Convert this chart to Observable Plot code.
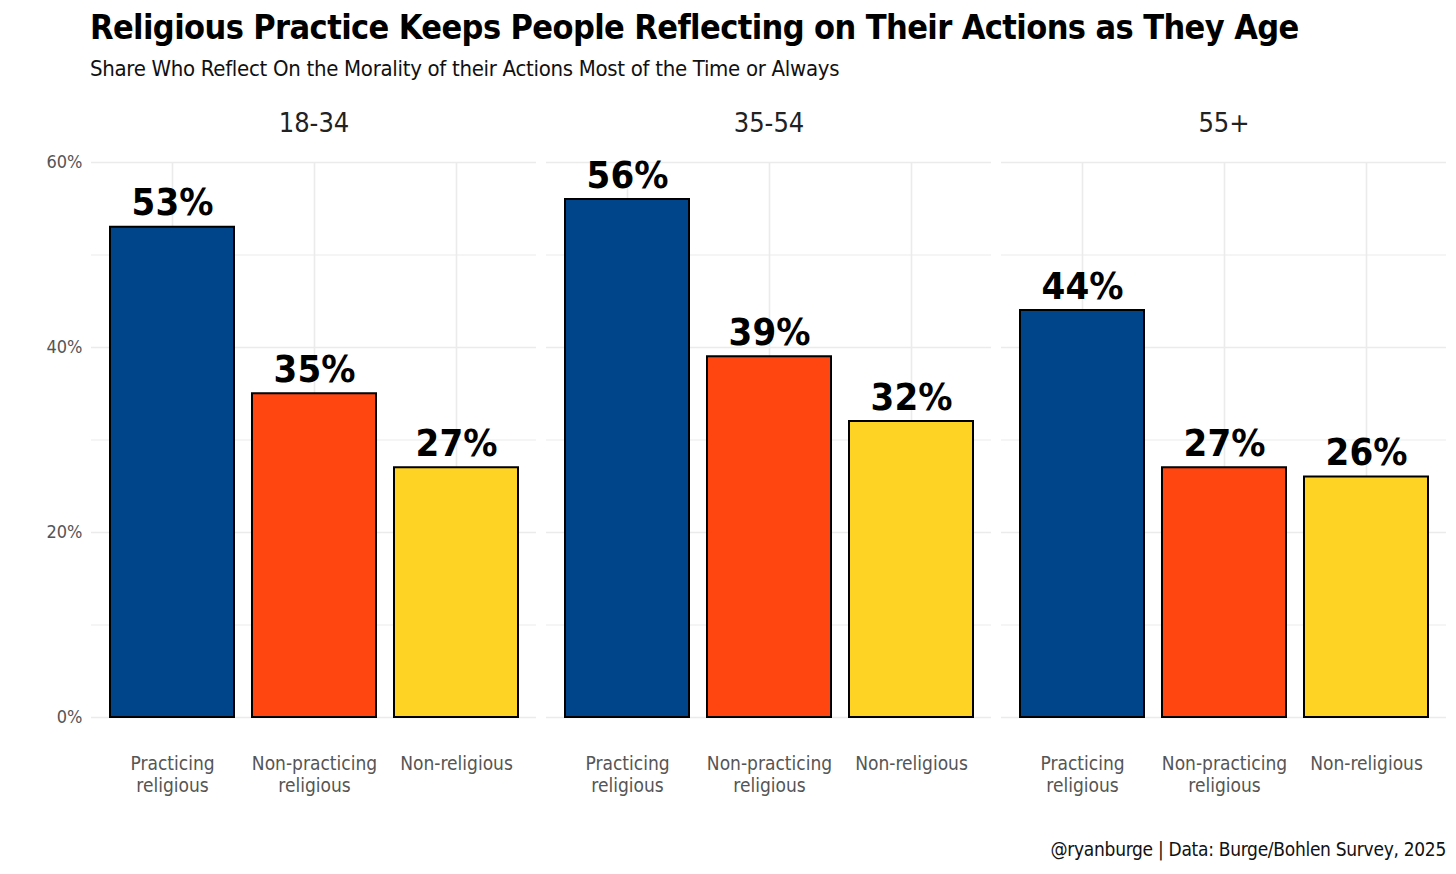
<!DOCTYPE html>
<html><head><meta charset="utf-8">
<script src="https://cdn.jsdelivr.net/npm/d3@7"></script>
<script src="https://cdn.jsdelivr.net/npm/@observablehq/plot@0.6"></script>
<style>
body{margin:0;background:#fff;font-family:"DejaVu Sans Condensed","Roboto",sans-serif;font-stretch:condensed;width:1456px;height:874px;overflow:hidden;position:relative}
#t{position:absolute;left:90px;top:7px;font-size:34px;font-weight:bold;color:#000;letter-spacing:-0.6px}
#s{position:absolute;left:90px;top:56px;font-size:22px;color:#111;letter-spacing:-0.3px}
#c{position:absolute;right:10px;top:838px;font-size:19px;color:#111;letter-spacing:-0.3px}
#p{position:absolute;left:0;top:95px}
</style></head><body>
<div id="t">Religious Practice Keeps People Reflecting on Their Actions as They Age</div>
<div id="s">Share Who Reflect On the Morality of their Actions Most of the Time or Always</div>
<div id="p"></div>
<div id="c">@ryanburge | Data: Burge/Bohlen Survey, 2025</div>
<script>
const ages = ["18-34","35-54","55+"];
const groups = ["Practicing\nreligious","Non-practicing\nreligious","Non-religious"];
const colors = ["#00458a","#ff4510","#ffd324"];
const values = [[53,35,27],[56,39,32],[44,27,26]];
const data = [];
ages.forEach((a,i)=>groups.forEach((g,j)=>data.push({age:a,group:g,v:values[i][j]})));
const chart = Plot.plot({
  width:1456, height:712, marginLeft:90, marginRight:10, marginTop:67, marginBottom:90,
  style:{fontFamily:"DejaVu Sans Condensed, Roboto, sans-serif", fontSize:"18px"},
  fx:{domain:ages, padding:0.022, label:null, axis:null},
  x:{domain:groups, padding:0.13, label:null},
  y:{domain:[0,60], label:null},
  color:{domain:groups, range:colors},
  marks:[
    Plot.gridY(d3.range(0,61,10),{stroke:"#ebebeb",strokeOpacity:1,strokeWidth:d=>d%20===0?1.6:1}),
    Plot.gridX(groups,{x:d=>d,stroke:"#ebebeb",strokeOpacity:1,strokeWidth:1.6}),
    Plot.axisFx({anchor:"top",tickSize:0,fontSize:27,fill:"#222",dy:-22,label:null}),
    Plot.axisY([0,20,40,60],{tickFormat:d=>d+"%",tickSize:0,fontSize:18,fill:"#555",facetAnchor:"left",label:null}),
    Plot.axisX({tickSize:0,fontSize:19,fill:"#555",tickPadding:36,lineHeight:1.2,label:null}),
    Plot.barY(data,{fx:"age",x:"group",y:"v",fill:"group",stroke:"#000",strokeWidth:2}),
    Plot.text(data,{fx:"age",x:"group",y:"v",text:d=>d.v+"%",dy:-24,fontSize:38,fontWeight:"bold",fill:"#000"})
  ]
});
document.getElementById("p").append(chart);
</script></body></html>
